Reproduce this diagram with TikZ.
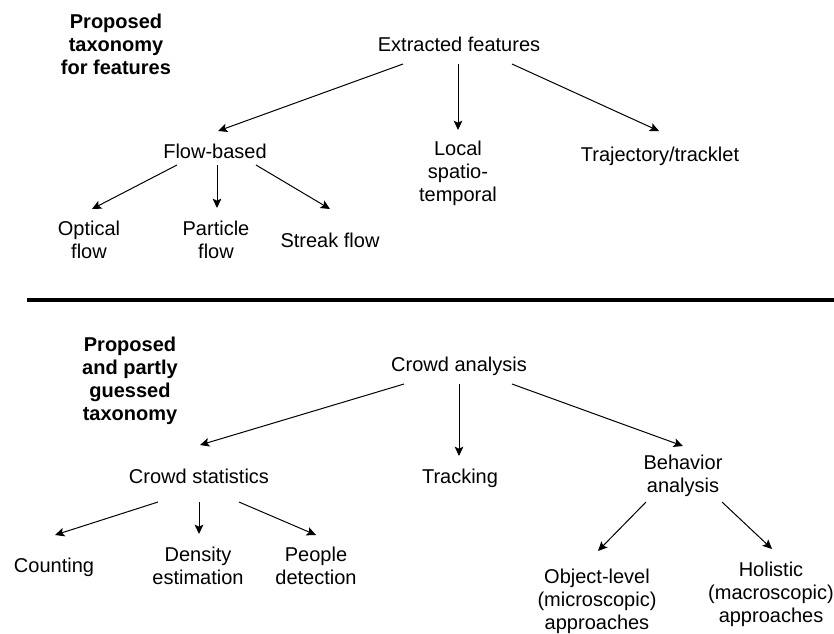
\documentclass[tikz,border=0pt]{standalone}
\usepackage{fontspec}
\setmainfont{Liberation Sans}
\usetikzlibrary{arrows.meta}
\begin{document}
\begin{tikzpicture}[x=0.75pt,y=-0.75pt,
  lbl/.style={font=\fontsize{15pt}{17.25pt}\selectfont, align=center, inner sep=0pt, anchor=center},
  ttl/.style={lbl, font=\fontsize{15pt}{17.25pt}\selectfont\bfseries},
  arr/.style={line width=0.75pt, -{Stealth[length=7pt,width=6.5pt,inset=1.5pt]}},
  sep/.style={line width=3pt}]
\fill[white] (0,0) rectangle (834,633);
\useasboundingbox (0,0) rectangle (834,633);
% top taxonomy
\node[ttl] (t1) at (116,44) {Proposed\\taxonomy\\for features};
\node[lbl] (ef) at (459,44) {Extracted features};
\node[lbl] (fb) at (215,151) {Flow-based};
\node[lbl] (loc) at (458,173) {Local\\spatio-\\temporal};
\node[lbl] (tt) at (660,156) {Trajectory/tracklet};
\node[lbl] (of) at (89,240) {Optical\\flow};
\node[lbl] (pf) at (216,240) {Particle\\flow};
\node[lbl] (sf) at (330,240) {Streak flow};
\draw[arr] ([shift={(-56,20)}]ef.center) -- ([shift={(3,-20)}]fb.center);
\draw[arr] ([shift={(-1,20)}]ef.center) -- ([shift={(0,-43)}]loc.center);
\draw[arr] ([shift={(53,20)}]ef.center) -- ([shift={(-1,-25)}]tt.center);
\draw[arr] ([shift={(-38,14)}]fb.center) -- ([shift={(3,-31)}]of.center);
\draw[arr] ([shift={(2,14)}]fb.center) -- ([shift={(1,-32)}]pf.center);
\draw[arr] ([shift={(41,14)}]fb.center) -- ([shift={(0,-31)}]sf.center);
% separator
\coordinate (sepL) at (27,300);
\coordinate (sepR) at (834,300);
\draw[sep] (sepL) -- (sepR);
% bottom taxonomy
\node[ttl] (t2) at (130,381) {Proposed\\and partly\\guessed\\taxonomy};
\node[lbl] (ca) at (459,366) {Crowd analysis};
\node[lbl] (cs) at (199,476) {Crowd statistics};
\node[lbl] (tr) at (460,478) {Tracking};
\node[lbl] (ba) at (683,476) {Behavior\\analysis};
\node[lbl] (cnt) at (54,567) {Counting};
\node[lbl] (de) at (198,566) {Density\\estimation};
\node[lbl] (pd) at (316,566) {People\\detection};
\node[lbl] (ol) at (597,601) {Object-level\\(microscopic)\\approaches};
\node[lbl] (ho) at (771,594) {Holistic\\(macroscopic)\\approaches};
\draw[arr] ([shift={(-55,18)}]ca.center) -- ([shift={(1,-31)}]cs.center);
\draw[arr] ([shift={(0,18)}]ca.center) -- ([shift={(-1,-22)}]tr.center);
\draw[arr] ([shift={(53,18)}]ca.center) -- ([shift={(0,-30)}]ba.center);
\draw[arr] ([shift={(-41,26)}]cs.center) -- ([shift={(1,-32)}]cnt.center);
\draw[arr] ([shift={(0,26)}]cs.center) -- ([shift={(1,-32)}]de.center);
\draw[arr] ([shift={(40,26)}]cs.center) -- ([shift={(0,-31)}]pd.center);
\draw[arr] ([shift={(-37,26)}]ba.center) -- ([shift={(1,-50)}]ol.center);
\draw[arr] ([shift={(39,26)}]ba.center) -- ([shift={(1,-45)}]ho.center);
\end{tikzpicture}
\end{document}
